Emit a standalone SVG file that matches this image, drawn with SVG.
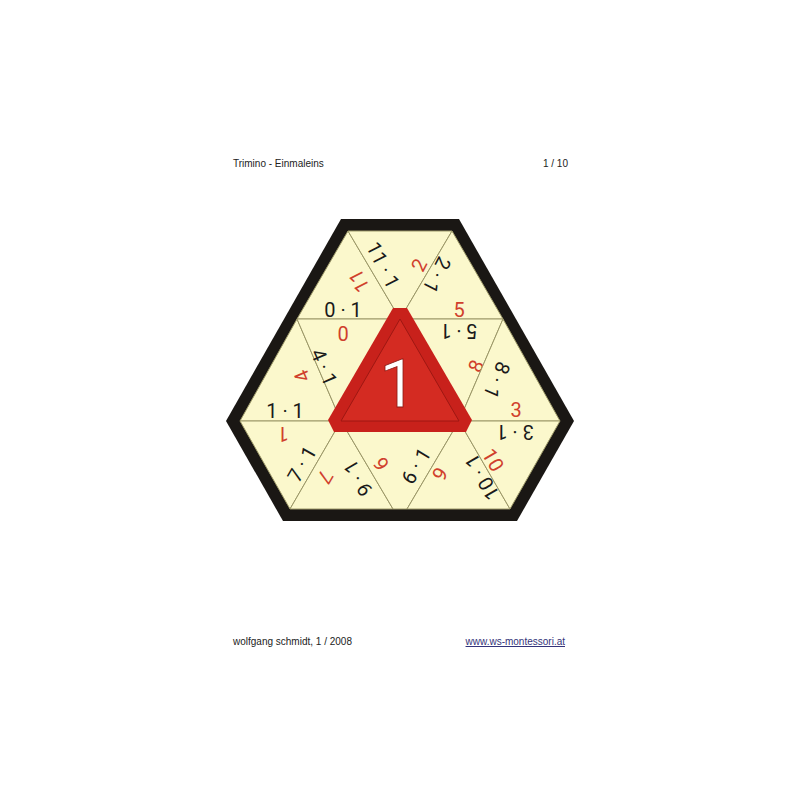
<svg xmlns="http://www.w3.org/2000/svg" width="800" height="800" viewBox="0 0 800 800">
<style>
text{font-family:'Liberation Sans',Arial,Helvetica,sans-serif}
.cell{fill:#fbf8cc;stroke:#9c9868;stroke-width:1}
.q{font-family:Roboto,'Liberation Sans',Arial,sans-serif;font-size:20px;fill:#1a1a1a;text-anchor:middle}
.a{font-family:Roboto,'Liberation Sans',Arial,sans-serif;font-size:20px;fill:#d0402c;text-anchor:middle}
.big{font-family:Roboto,'Liberation Sans',Arial,sans-serif;font-size:66px;fill:#ffffff;stroke:#8a1a14;stroke-width:0.8;text-anchor:middle}
.hdr{font-size:10px;fill:#222}
</style>
<rect width="800" height="800" fill="#ffffff"/>
<text class="hdr" x="233" y="167">Trimino - Einmaleins</text>
<text class="hdr" x="568" y="167" text-anchor="end">1 / 10</text>
<text class="hdr" x="233" y="645">wolfgang schmidt, 1 / 2008</text>
<text class="hdr" x="565" y="645" text-anchor="end" text-decoration="underline" style="fill:#33337a">www.ws-montessori.at</text>

<g id="frame">
<polygon points="341,219 459,219 574,421 517,521 283,521 226,421" fill="#1a1714"/>
</g>

<g id="cell-t1"><polygon class="cell" points="348,231 297,319 400,319"/>
<text class="q" transform="translate(343,310)" y="7">0 · 1</text>
<text class="a" transform="translate(359,281) rotate(-117.1)" y="7">11</text></g>

<g id="cell-t2"><polygon class="cell" points="348,231 452,231 400,319"/>
<text class="q" transform="translate(383,265) rotate(62.9)" y="7">11 · 1</text>
<text class="a" transform="translate(419,265) rotate(-62.9)" y="7">2</text></g>

<g id="cell-t3"><polygon class="cell" points="452,231 400,319 503,319"/>
<text class="q" transform="translate(437,275) rotate(117.1)" y="7">2 · 1</text>
<text class="a" transform="translate(459,310)" y="7">5</text></g>

<g id="cell-a"><polygon class="cell" points="297,319 240,421 341,421"/>
<text class="a" transform="translate(302,376) rotate(-113.3)" y="7">4</text>
<text class="q" transform="translate(285,411)" y="7">1 · 1</text></g>

<g id="cell-b"><polygon class="cell" points="297,319 400,319 341,421"/>
<text class="a" transform="translate(343,333) rotate(180)" y="7">0</text>
<text class="q" transform="translate(324,367) rotate(66.7)" y="7">4 · 1</text></g>

<g id="cell-d"><polygon class="cell" points="400,319 503,319 459,421"/>
<text class="q" transform="translate(459,331) rotate(180)" y="7">5 · 1</text>
<text class="a" transform="translate(476,366) rotate(-66.7)" y="7">8</text></g>

<g id="cell-e"><polygon class="cell" points="503,319 459,421 560,421"/>
<text class="q" transform="translate(497,380) rotate(113.3)" y="7">8 · 1</text>
<text class="a" transform="translate(516,410)" y="7">3</text></g>

<g id="cell-f"><polygon class="cell" points="240,421 341,421 290,509"/>
<text class="a" transform="translate(283,434) rotate(180)" y="7">1</text>
<text class="q" transform="translate(302,464) rotate(-60.1)" y="7">7 · 1</text></g>

<g id="cell-g"><polygon class="cell" points="341,421 290,509 393,509"/>
<text class="a" transform="translate(325,477) rotate(119.9)" y="7">7</text>
<text class="q" transform="translate(358,478) rotate(-120.6)" y="7">9 · 1</text></g>

<g id="cell-h"><polygon class="cell" points="341,421 459,421 407,509 393,509"/>
<text class="a" transform="translate(381,464) rotate(59.4)" y="7">9</text>
<text class="q" transform="translate(416,466) rotate(-59.4)" y="7">6 · 1</text></g>

<g id="cell-i"><polygon class="cell" points="459,421 407,509 510,509"/>
<text class="a" transform="translate(440,474) rotate(120.6)" y="7">6</text>
<text class="q" transform="translate(482,477) rotate(-120.1)" y="7">10 · 1</text></g>

<g id="cell-j"><polygon class="cell" points="459,421 560,421 510,509"/>
<text class="a" transform="translate(493,460) rotate(59.9)" y="7">10</text>
<text class="q" transform="translate(515,432) rotate(180)" y="7">3 · 1</text></g>

<g id="center">
<polygon points="393,308 407,308 472,420 466,432 334,432 328,420" fill="#c8211b"/>
<polygon points="400,319 341,421 459,421" fill="#d42b22" stroke="#9e1712" stroke-width="1"/>
<text class="big" x="398" y="407">1</text>
</g>
</svg>
